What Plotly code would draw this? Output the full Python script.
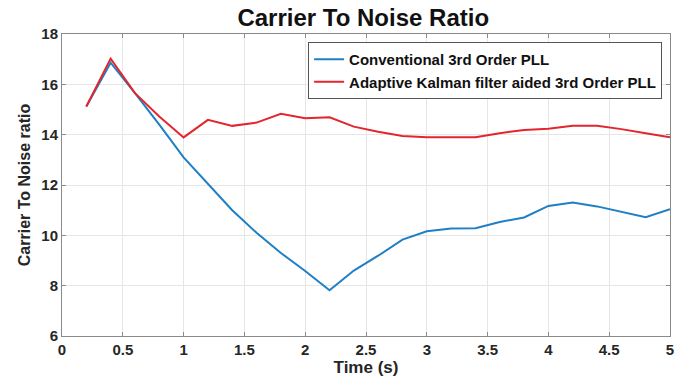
import plotly.graph_objects as go

time_s = [0.2, 0.4, 0.6, 0.8, 1.0, 1.2, 1.4, 1.6, 1.8, 2.0, 2.2, 2.4, 2.6,
          2.8, 3.0, 3.2, 3.4, 3.6, 3.8, 4.0, 4.2, 4.4, 4.6, 4.8, 5.0]
conventional = [15.12, 16.86, 15.65, 14.4, 13.1, 12.05, 11.0, 10.1, 9.3, 8.58, 7.82, 8.6,
                9.19, 9.83, 10.16, 10.27, 10.28, 10.53, 10.71, 11.17, 11.3, 11.15,
                10.95, 10.72, 11.04]
adaptive = [15.12, 17.02, 15.65, 14.72, 13.89, 14.59, 14.35, 14.48, 14.83, 14.65, 14.69,
            14.32, 14.12, 13.95, 13.9, 13.89, 13.9, 14.06, 14.19, 14.24, 14.35, 14.35,
            14.22, 14.06, 13.9]
x_ticks = [0, 0.5, 1, 1.5, 2, 2.5, 3, 3.5, 4, 4.5, 5]
y_ticks = [6, 8, 10, 12, 14, 16, 18]

font_family = "Liberation Sans, Arial, sans-serif"

fig = go.Figure()
fig.add_trace(go.Scatter(x=time_s, y=conventional, mode="lines",
                         name="<b>Conventional 3rd Order PLL</b>",
                         line=dict(color="#1f7fc4", width=2)))
fig.add_trace(go.Scatter(x=time_s, y=adaptive, mode="lines",
                         name="<b>Adaptive Kalman filter aided 3rd Order PLL</b>",
                         line=dict(color="#e3262e", width=2)))

axis_common = dict(showline=True, linecolor="#8a8a8a", linewidth=1, mirror="ticks",
                   showgrid=True, gridcolor="#e6e6e6", gridwidth=1, automargin=False,
                   ticks="inside", ticklen=4, tickcolor="#8a8a8a", zeroline=False,
                   tickfont=dict(family=font_family, size=15, color="#262626"))

fig.update_layout(
    width=688, height=385,
    margin=dict(l=62, r=18, t=34, b=49),
    paper_bgcolor="white", plot_bgcolor="white",
    title=dict(text="<b>Carrier To Noise Ratio</b>", x=0.528, xanchor="center",
               y=0.975, yanchor="top",
               font=dict(family=font_family, size=24, color="#111111")),
    xaxis=dict(range=[0, 5], tickvals=x_ticks, ticktext=[f"<b>{v:g}</b>" for v in x_ticks],
               title=dict(text="<b>Time (s)</b>", standoff=4,
                          font=dict(family=font_family, size=17, color="#262626")),
               **axis_common),
    yaxis=dict(range=[6, 18], tickvals=y_ticks, ticktext=[f"<b>{v}</b>" for v in y_ticks],
               title=dict(text="<b>Carrier To Noise ratio</b>", standoff=6,
                          font=dict(family=font_family, size=16, color="#262626")),
               **axis_common),
    legend=dict(x=0.987, y=0.9735, xanchor="right", yanchor="top",
                bgcolor="white", bordercolor="#555555", borderwidth=1,
                font=dict(family=font_family, size=15, color="#111111"),
                tracegroupgap=0, itemwidth=30),
    showlegend=True,
)

fig.write_html("out.html", config={"displayModeBar": False},
               post_script="document.body.style.margin='0';document.body.style.overflow='hidden';")
